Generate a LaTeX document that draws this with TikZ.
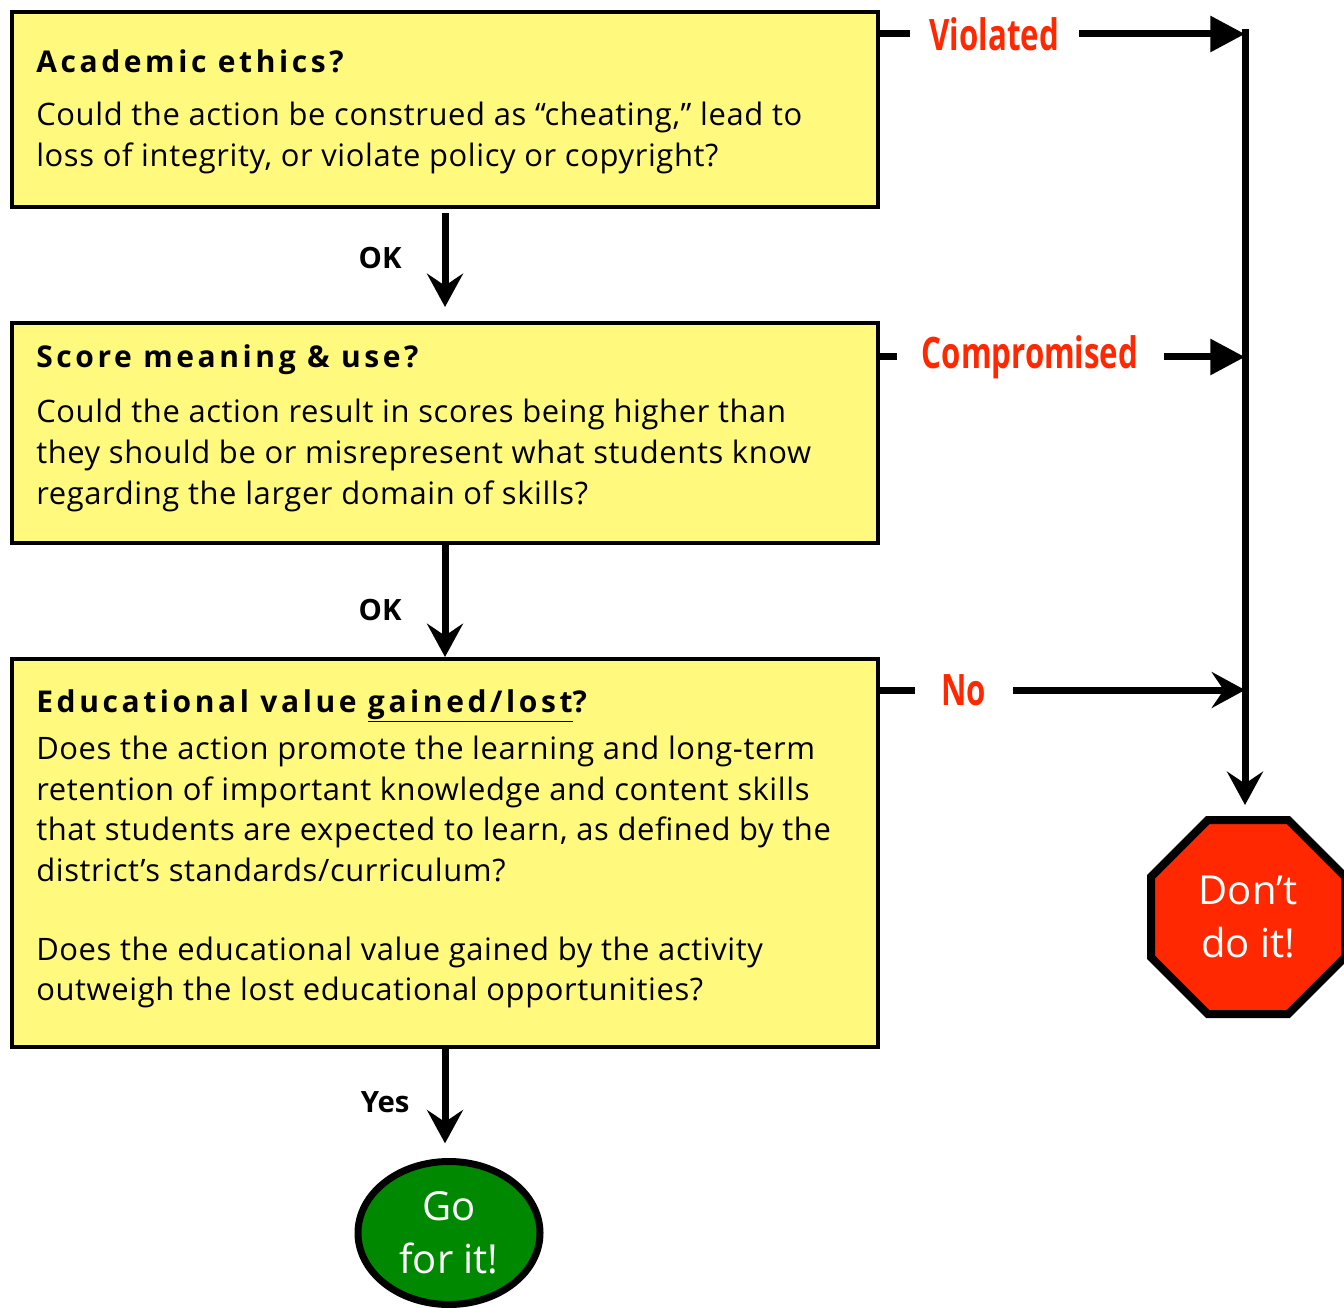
\documentclass[tikz,border=0pt]{standalone}
\usepackage{fontspec}
\setmainfont{Open Sans}
\newfontfamily\titlefont[LetterSpace=12]{Open Sans}
\newfontfamily\lblfont[FakeStretch=0.72]{Open Sans}
\newfontfamily\bodyfont[LetterSpace=2]{Open Sans}
\usetikzlibrary{arrows.meta,shapes.geometric,calc}
\definecolor{boxyellow}{RGB}{255,250,125}
\definecolor{lblred}{RGB}{255,40,0}
\definecolor{stopred}{RGB}{255,40,0}
\definecolor{gogreen}{RGB}{0,136,0}
\begin{document}
\begin{tikzpicture}[x=0.75pt,y=-0.75pt,
  qbox/.style={draw=black,line width=3pt,fill=boxyellow,inner sep=0pt},
  qtitle/.style={anchor=base west,inner sep=0pt,font=\titlefont\bfseries\fontsize{22.5}{26}\selectfont},
  qbody/.style={anchor=base west,inner sep=0pt,font=\bodyfont\fontsize{23.2}{28}\selectfont},
  conn/.style={line width=5.25pt},
  stl/.style={conn,-{Stealth[length=25pt,width=27pt,inset=9pt]}},
  tri/.style={conn,-{Triangle[length=26pt,width=26pt]}},
  branch/.style={fill=white,text=lblred,font=\lblfont\bfseries\fontsize{32.5}{36}\selectfont,inner ysep=2pt,inner xsep=15pt},
  oklbl/.style={font=\bfseries\fontsize{22}{26}\selectfont,inner sep=0pt},
  endtxt/.style={text=white,align=center,inner sep=0pt,font=\fontsize{30}{39.5}\selectfont},
]
\useasboundingbox (0,0) rectangle (1344,1308);
\clip (0,0) rectangle (1344,1308);

% question boxes
\node[qbox,minimum width=649.5pt,minimum height=146.25pt] (b1) at (445,109.5) {};
\node[qbox,minimum width=649.5pt,minimum height=165pt] (b2) at (445,433) {};
\node[qbox,minimum width=649.5pt,minimum height=291pt] (b3) at (445,853) {};

\node[qtitle] (t1) at (36,73) {Academic ethics?};
\node[qbody] (t1a) at (36,126) {Could the action be construed as “cheating,” lead to};
\node[qbody] (t1b) at (36,167) {loss of integrity, or violate policy or copyright?};

\node[qtitle] (t2) at (36,368) {Score meaning \& use?};
\node[qbody] (t2a) at (36,422) {Could the action result in scores being higher than};
\node[qbody] (t2b) at (36,463) {they should be or misrepresent what students know};
\node[qbody] (t2c) at (36,504) {regarding the larger domain of skills?};

\node[qtitle] (t3) at (36,712) {Educational value \underline{gained/lost}?};
\node[qbody] (t3a) at (36,759) {Does the action promote the learning and long-term};
\node[qbody] (t3b) at (36,800) {retention of important knowledge and content skills};
\node[qbody] (t3c) at (36,840) {that students are expected to learn, as defined by the};
\node[qbody] (t3d) at (36,881) {district’s standards/curriculum?};
\node[qbody] (t3e) at (36,960) {Does the educational value gained by the activity};
\node[qbody] (t3f) at (36,1000) {outweigh the lost educational opportunities?};

% end nodes
\node[ellipse,draw=black,line width=5.25pt,fill=gogreen,minimum width=136.5pt,minimum height=107.25pt,endtxt] (go) at (449,1233) {Go\\for it!};
\node[regular polygon,regular polygon sides=8,draw=black,line width=6pt,fill=stopred,minimum size=157.5pt,endtxt] (stop) at (1248,917) {Don’t\\do it!};

% down connectors
\draw[stl,shorten <=3pt] (b1.south) -- node[oklbl,left=30pt] (ok1) {OK} ([yshift=10.5pt]b2.north);
\draw[stl] (b2.south) -- node[oklbl,pos=0.58,left=30pt] (ok2) {OK} (b3.north);
\draw[stl,shorten >=11pt] (b3.south) -- node[oklbl,pos=0.49,left=24pt] (yes) {Yes} (b3.south |- go.north);

% right collector
\coordinate (rtop) at (1245,29);
\coordinate (jv) at (1245,34);
\coordinate (jc) at (1245,357);
\coordinate (jn) at (1245,690);
\draw[stl,shorten >=8.25pt] (rtop) -- (rtop |- stop.north);

\draw[tri] (b1.east |- jv) -- node[branch,pos=0.313] (lv) {Violated} (jv);
\draw[tri] (b2.east |- jc) -- node[branch,pos=0.411,inner xsep=19pt] (lc) {Compromised} (jc);
\draw[stl] (b3.east |- jn) -- node[branch,pos=0.229,inner xsep=20pt] (ln) {No} (jn);
\end{tikzpicture}
\end{document}
